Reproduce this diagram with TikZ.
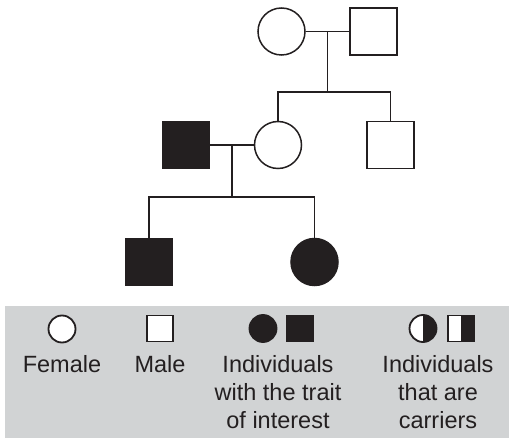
\documentclass[tikz,border=0pt]{standalone}
\usepackage{fontspec}
\setmainfont{Liberation Sans}
\usetikzlibrary{calc}
\definecolor{ink}{HTML}{231F20}
\definecolor{keygray}{HTML}{D1D3D4}
\tikzset{
  female/.style={circle, draw=ink, line width=1.5pt, minimum size=47pt, inner sep=0pt},
  male/.style={rectangle, draw=ink, line width=1.5pt, minimum size=47pt, inner sep=0pt},
  affected/.style={fill=ink},
  carrier/.style={fill=white, path picture={\fill[ink] (path picture bounding box.north) rectangle (path picture bounding box.south east);}},
  keyfemale/.style={female, minimum size=27pt, line width=1.8pt},
  keymale/.style={male, minimum size=26pt, line width=1.8pt},
  keytext/.style={anchor=north, inner sep=0pt, align=center, font=\fontsize{23.5}{28}\selectfont}
}

\begin{document}
\begin{tikzpicture}[x=1pt, y=-1pt, line width=1.5pt, ink]
    \useasboundingbox (0,0) rectangle (509,438);
    \node[female] (gm) at (281.5,31.5) {};
    \node[male] (gf) at (373.5,31.5) {};
    \node[female] (mom) at (278,145) {};
    \node[male] (uncle) at (390.5,145) {};
    \node[male,affected] (dad) at (186,145) {};
    \node[male,affected] (son) at (149,262) {};
    \node[female,affected] (daughter) at (314.5,262) {};
    \coordinate (m1) at ($(gm.east)!0.5!(gf.west)$);
    \coordinate (s1) at ($(m1)+(0,60.5)$);
    \coordinate (m2) at ($(dad.east)!0.5!(mom.west)$);
    \coordinate (s2) at ($(m2)+(0,52)$);
    \draw (gm) -- (gf);
    \draw (m1) -- (s1);
    \draw (mom.north) |- (s1) -| (uncle.north);
    \draw (dad) -- (mom);
    \draw (m2) -- (s2);
    \draw (son.north) |- (s2) -| (daughter.north);
    \fill[keygray] (5,306) rectangle (509,438);
    \node[keyfemale, fill=white] (kf) at (62,329) {};
    \node[keymale, fill=white] (km) at (160,328.5) {};
    \node[keyfemale, affected] (kaf) at (263,328.5) {};
    \node[keymale, affected] (kam) at (300,328.5) {};
    \node[keyfemale, carrier] (kcf) at (423,328.5) {};
    \node[keymale, carrier] (kcm) at (461,328.5) {};
    \node[keytext] (tf) at (62,355) {Female};
    \node[keytext] (tm) at (160,355) {Male};
    \node[keytext] (ta) at (278,355) {Individuals\\with the trait\\of interest};
    \node[keytext] (tc) at (438,355) {Individuals\\that are\\carriers};
\end{tikzpicture}
\end{document}
